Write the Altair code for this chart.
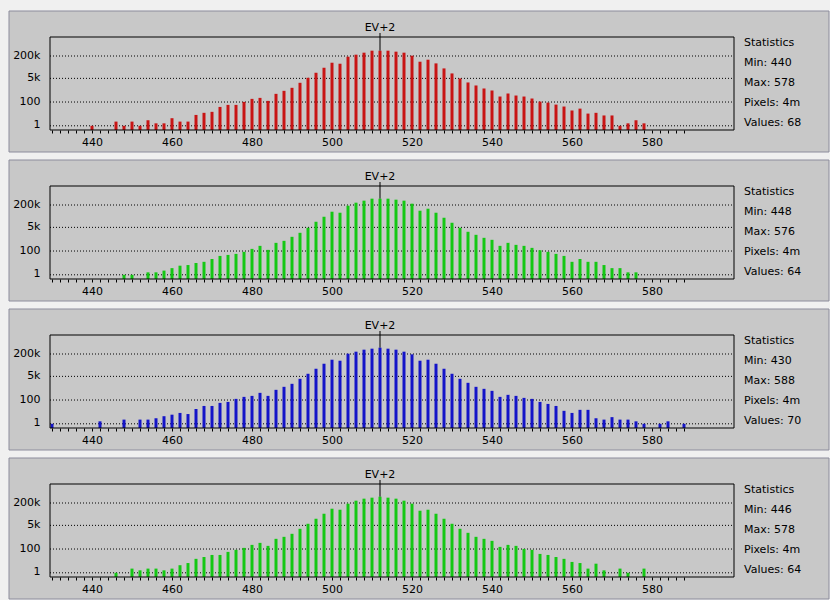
import altair as alt
import pandas as pd

# ---------------- data ----------------
bins = list(range(430, 590, 2))

red_counts = [0, 0, 0, 0, 0, 1, 0, 0, 3, 1, 3, 1, 4, 2, 2, 6, 3, 3, 11, 16,
              19, 44, 62, 62, 102, 169, 199, 121, 388, 639, 1052, 2405, 5508, 12618, 28840, 66070, 55980, 178600, 248900, 346700,
              482300, 482300, 482300, 409300, 346700, 210900, 78000, 108600, 59160, 25830, 11297, 4932, 2543, 1546, 941, 675, 249, 410, 294, 249,
              179, 108, 91, 65, 47, 24, 33, 14, 16, 10, 10, 1, 2, 4, 2, 0, 0, 0, 0, 0]

green_counts = [0, 0, 0, 0, 0, 0, 0, 0, 0, 1, 1, 0, 2, 2, 3, 5, 8, 9, 13, 16,
                26, 44, 52, 62, 87, 143, 236, 121, 388, 541, 1052, 2038, 4667, 12618, 28840, 66070, 55980, 178600, 293600, 409300,
                569500, 569500, 569500, 482300, 409300, 248900, 78000, 108600, 55980, 24440, 10690, 4667, 2405, 1462, 890, 639, 236, 388, 278, 236,
                169, 114, 87, 62, 44, 16, 26, 16, 16, 9, 5, 5, 2, 2, 0, 0, 0, 0, 0, 0]

blue_counts = [1, 0, 0, 0, 0, 0, 2, 0, 0, 3, 0, 3, 3, 4, 6, 8, 11, 9, 22, 37,
               37, 62, 73, 121, 169, 199, 329, 199, 541, 890, 1462, 3349, 7673, 17580, 40180, 78000, 66070, 210900, 293600, 409300,
               482300, 569500, 482300, 409300, 293600, 188800, 66070, 78000, 40180, 17580, 7673, 3349, 1726, 890, 639, 458, 169, 236, 199, 143,
               121, 73, 52, 37, 16, 11, 19, 19, 4, 3, 5, 3, 3, 2, 1, 0, 1, 2, 0, 1]

green2_counts = [0, 0, 0, 0, 0, 0, 0, 0, 1, 0, 3, 2, 3, 3, 2, 3, 6, 9, 19, 26,
                 37, 37, 62, 87, 121, 199, 278, 169, 541, 754, 1241, 2838, 6501, 14890, 34060, 78000, 66070, 178600, 293600, 409300,
                 482300, 569500, 482300, 409300, 293600, 178600, 55980, 66070, 34060, 14890, 6501, 2838, 1462, 754, 541, 388, 143, 199, 169, 102,
                 87, 44, 37, 26, 19, 11, 9, 3, 8, 2, 0, 3, 1, 0, 3, 0, 0, 0, 0, 0]

series_counts = [red_counts, green_counts, blue_counts, green2_counts]
series_colors = ["#c81414", "#14c814", "#1414c8", "#14c814"]

stat_titles = ["Statistics"] * 4
stat_min = [440, 448, 430, 446]
stat_max = [578, 576, 588, 578]
stat_pixels = ["4m", "4m", "4m", "4m"]
stat_values = [68, 64, 70, 64]

grid_values = [1, 100, 5000, 200000]
grid_labels = ["1", "100", "5k", "200k"]
x_label_every = 20
ev_value = 512
ev_label = "EV+2"

# ---------------- styling ----------------
W, H = 684, 93
FONT = "DejaVu Sans"
FS = 11

xscale = alt.Scale(domain=[429.5, 600.5], nice=False, zero=False, padding=0)
yscale = alt.Scale(type="symlog", constant=1, domain=[0, 4.6e6], nice=False, padding=0)

y_label_expr = " : ".join(
    f"datum.value == {v} ? '{l}'" for v, l in zip(grid_values, grid_labels)
) + " : ''"

xaxis = alt.Axis(values=bins,
                 labelExpr=f"datum.value % {x_label_every} == 0 ? datum.label : ''",
                 tickSize=3, tickColor="black", tickWidth=1,
                 domain=False, grid=False, title=None,
                 labelFont=FONT, labelFontSize=FS, labelColor="black",
                 labelPadding=3, labelOverlap=False, labelFlush=False, zindex=1)

yaxis = alt.Axis(values=grid_values, labelExpr=y_label_expr,
                 ticks=False, tickSize=0, domain=False, grid=False, title=None,
                 labelFont=FONT, labelFontSize=FS, labelColor="black",
                 labelPadding=10, labelOffset=-1, zindex=1)


def panel(counts, color, lines):
    df = pd.DataFrame({"bin": bins, "count": counts})
    df = df[df["count"] > 0]
    one = pd.DataFrame({"k": [0]})

    bg = alt.Chart(one).mark_rect(fill="#c8c8c8", stroke="#8c8c9c", strokeWidth=1).encode(
        x=alt.value(-41), x2=alt.value(W + 95), y=alt.value(-26), y2=alt.value(H + 22))

    grid = alt.Chart(pd.DataFrame({"g": grid_values})).mark_rule(
        color="black", strokeDash=[1, 2], strokeWidth=1).encode(
        y=alt.Y("g:Q", scale=yscale, axis=yaxis), x=alt.value(0), x2=alt.value(W))

    bars = alt.Chart(df).mark_bar(size=3, color=color).encode(
        x=alt.X("bin:Q", scale=xscale, axis=xaxis),
        y=alt.Y("count:Q", scale=yscale, axis=yaxis))

    frame = alt.Chart(one).mark_rect(filled=False, stroke="black", strokeWidth=1).encode(
        x=alt.value(0), x2=alt.value(W), y=alt.value(0), y2=alt.value(H))

    ev_data = alt.Chart(df).transform_filter(alt.datum.bin == ev_value)
    ev_rule = ev_data.mark_rule(color="black", strokeWidth=1).encode(
        x=alt.X("bin:Q", scale=xscale, axis=xaxis),
        y=alt.Y("count:Q", scale=yscale, axis=yaxis),
        y2=alt.value(-4))
    ev_text = ev_data.mark_text(text=ev_label, font=FONT, fontSize=FS, align="center",
                                baseline="alphabetic", color="black").encode(
        x=alt.X("bin:Q", scale=xscale, axis=xaxis), y=alt.value(-5.6))

    stats = alt.Chart(one).mark_text(font=FONT, fontSize=FS, align="left",
                                     baseline="alphabetic", lineHeight=20,
                                     color="black").encode(
        x=alt.value(W + 10), y=alt.value(9), text=alt.value(lines))

    return alt.layer(bg, grid, bars, frame, ev_rule, ev_text, stats).properties(width=W, height=H)


panels = []
for i in range(4):
    lines = [stat_titles[i], f"Min: {stat_min[i]}", f"Max: {stat_max[i]}",
             f"Pixels: {stat_pixels[i]}", f"Values: {stat_values[i]}"]
    panels.append(panel(series_counts[i], series_colors[i], lines))

chart = alt.vconcat(*panels, spacing=56, bounds="flush").configure(
    background="#f0f0f0",
    padding={"left": 8, "top": 10, "right": 0, "bottom": 0},
).configure_view(stroke="transparent")

chart.save("out.html", embed_options={"renderer": "svg", "actions": False})
